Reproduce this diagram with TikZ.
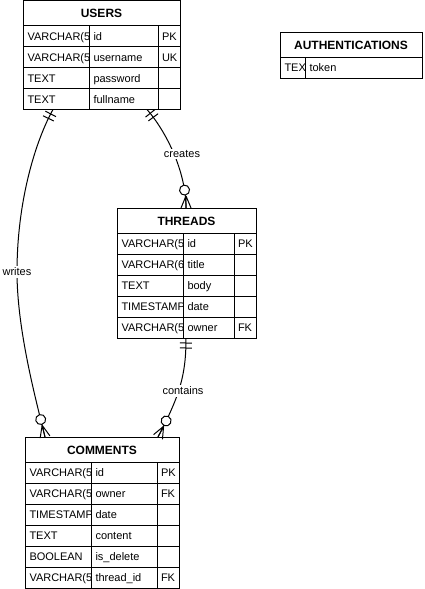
\documentclass[tikz,border=0pt]{standalone}
\usepackage{fontspec}
\setmainfont{Liberation Sans}
\usetikzlibrary{calc,decorations.markings}

\tikzset{
  tbl/.style={draw, inner sep=0pt, outer sep=0pt},
  cell/.style={anchor=base west, inner sep=0pt, font=\fontsize{11}{13}\selectfont},
  ttl/.style={anchor=base, inner sep=0pt, font=\fontsize{12}{14}\selectfont\bfseries},
  lbl/.style={fill=white, inner sep=1.5pt, font=\fontsize{11}{13}\selectfont},
  one start/.style={postaction={decorate, decoration={markings,
      mark=at position 5pt with {\draw (0,-6)--(0,6);},
      mark=at position 10pt with {\draw (0,-6)--(0,6);}}}},
  zeromany end/.style={postaction={decorate, decoration={markings,
      mark=at position -18pt with {\draw[fill=white] (0,0) circle (5);},
      mark=at position -0.05pt with {\draw (-12,0)--(0,5) (-12,0)--(0,0) (-12,0)--(0,-5);}}}},
}

% #1 name, #2 x, #3 y, #4 width, #5 divider 1, #6 divider 2, #7 rows, #8 title, #9 rows list
\newcommand{\ertable}[9]{%
  \pgfmathsetmacro{\erH}{25+21*#7}%
  \node[tbl, anchor=north west, minimum width=#4pt, minimum height=\erH pt] (#1) at (#2,#3) {};
  \node[ttl] at ($(#1.north)+(0,17)$) {#8};
  \foreach[count=\i] \ea/\eb/\ec in {#9} {
    \pgfmathsetmacro{\erA}{#3+25+21*(\i-1)}
    \pgfmathsetmacro{\erB}{\erA+21}
    \draw (#2,\erA) -- (#2+#4,\erA);
    \draw (#2+#5,\erA) -- (#2+#5,\erB);
    \draw (#2+#6,\erA) -- (#2+#6,\erB);
    \begin{scope}
      \clip (#2,\erA) rectangle (#2+#5,\erB);
      \node[cell] at (#2+4,\erA+14.8) {\ea};
    \end{scope}
    \begin{scope}
      \clip (#2+#5,\erA) rectangle (#2+#6,\erB);
      \node[cell] at (#2+#5+4,\erA+14.8) {\eb};
    \end{scope}
    \node[cell] at (#2+#6+3.5,\erA+14.8) {\ec};
  }
}

\begin{document}
\begin{tikzpicture}[x=1pt, y=-1pt, line width=1pt]
  \useasboundingbox (0,0) rectangle (424,589);

  \ertable{users}{23}{0.5}{157}{66}{135}{4}{USERS}{VARCHAR(5/id/PK, VARCHAR(5/username/UK, TEXT/password/, TEXT/fullname/}
  \ertable{auth}{280}{32}{142}{25}{142}{1}{AUTHENTICATIONS}{TEX/token/}
  \ertable{threads}{117}{208}{139}{66}{117}{5}{THREADS}{VARCHAR(5/id/PK, VARCHAR(6/title/, TEXT/body/, TIMESTAMP/date/, VARCHAR(5/owner/FK}
  \ertable{comments}{25}{437}{154}{66}{132}{6}{COMMENTS}{VARCHAR(5/id/PK, VARCHAR(5/owner/FK, TIMESTAMP/date/, TEXT/content/, BOOLEAN/is\_delete/, VARCHAR(5/thread\_id/FK}

  % connector end points
  \coordinate (uw) at ($(users.south west)+(30,0)$);
  \coordinate (uc) at ($(users.south west)+(124,0)$);
  \coordinate (tt) at ($(threads.north west)+(69,0)$);
  \coordinate (tb) at ($(threads.south west)+(69,0)$);
  \coordinate (cw) at ($(comments.north west)+(20,0)$);
  \coordinate (cc) at ($(comments.north west)+(133,0)$);
  \coordinate (wmid) at (17,272);

  % writes
  \draw[one start] (uw) .. controls (36,140) and (17,200) .. (wmid);
  \draw[zeromany end] (wmid) .. controls (17,330) and (36,400) .. (cw);
  % creates
  \draw[one start, zeromany end] (uc) .. controls (165,130) and (186,170) .. (tt);
  % contains
  \draw[one start, zeromany end] (tb) .. controls (186,375) and (180,395) .. (cc);

  \node[lbl] (lw) at (wmid) {writes};
  \node[lbl] (lc) at (182,154) {creates};
  \node[lbl] (lt) at (183,391) {contains};
\end{tikzpicture}
\end{document}
